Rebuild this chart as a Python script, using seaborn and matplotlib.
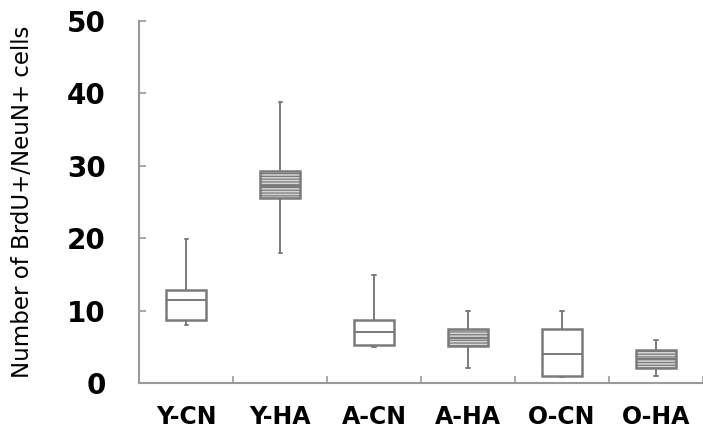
import pandas as pd
import numpy as np
import matplotlib
matplotlib.use("Agg")
import matplotlib.pyplot as plt
import seaborn as sns

# =========================================
# Data: five-number summaries
# (whisker low, Q1, median, Q3, whisker high)
# =========================================
groups = ["Y-CN", "Y-HA", "A-CN", "A-HA", "O-CN", "O-HA"]
y_cn = [8.0, 8.7, 11.5, 12.8, 19.9]
y_ha = [18.0, 25.5, 27.2, 29.3, 38.8]
a_cn = [5.0, 5.3, 7.1, 8.7, 14.9]
a_ha = [2.1, 5.1, 6.3, 7.5, 9.9]
o_cn = [0.9, 1.0, 4.0, 7.5, 9.9]
o_ha = [1.0, 2.1, 3.3, 4.6, 6.0]
y_ticks = [0, 10, 20, 30, 40, 50]

data = pd.DataFrame({
    "group": np.repeat(groups, 5),
    "cells": np.concatenate([y_cn, y_ha, a_cn, a_ha, o_cn, o_ha]),
})

# =========================================
# Style
# =========================================
sns.set_style("white")
plt.rcParams["font.family"] = ["DejaVu Sans Condensed", "DejaVu Sans"]
plt.rcParams["hatch.linewidth"] = 0.9
line_col = "#7a7a7a"
fill_cols = ["white", "#d6d6d6", "white", "#d6d6d6", "white", "#d6d6d6"]

fig = plt.figure(figsize=(7.03, 4.40), dpi=100)
ax = fig.add_axes([0.198, 0.129, 0.802, 0.824])

sns.boxplot(
    data=data, x="group", y="cells", hue="group", order=groups,
    palette=fill_cols, legend=False, whis=(0, 100), width=0.42,
    linecolor=line_col, linewidth=1.4, showfliers=False,
    capwidths=0.035, ax=ax,
)

# hatched fill for the HA groups
boxes = sorted(ax.patches, key=lambda p: p.get_path().vertices[:, 0].mean())
for i, p in enumerate(boxes):
    p.set_edgecolor(line_col)
    p.set_linewidth(1.8)
    if i % 2 == 1:
        p.set_hatch("------")

ax.set_xlim(-0.5, 5.5)
ax.set_ylim(0, 50)
ax.set_yticks(y_ticks)
ax.set_yticklabels([str(t) for t in y_ticks], fontsize=20,
                   fontweight="bold", color="black")
ax.set_xticks(range(len(groups)))
ax.set_xticklabels(groups, fontsize=17, fontweight="bold", color="black")
ax.set_xticks(np.arange(-0.5, 6.0, 1.0), minor=True)
ax.tick_params(axis="x", which="major", bottom=False, length=0, pad=16)
ax.tick_params(axis="x", which="minor", bottom=True, direction="in",
               length=5, color="#9a9a9a", width=1.2)
ax.tick_params(axis="y", left=True, direction="in", length=5,
               color="#9a9a9a", width=1.2, pad=24)

ax.set_xlabel("")
ax.set_ylabel("Number of BrdU+/NeuN+ cells", fontsize=16.5, color="black")
ax.yaxis.set_label_coords(-0.186, 0.5)

for side in ["top", "right"]:
    ax.spines[side].set_visible(False)
for side in ["left", "bottom"]:
    ax.spines[side].set_color("#9a9a9a")
    ax.spines[side].set_linewidth(1.5)

plt.savefig("out.png", dpi=100)
plt.close()
